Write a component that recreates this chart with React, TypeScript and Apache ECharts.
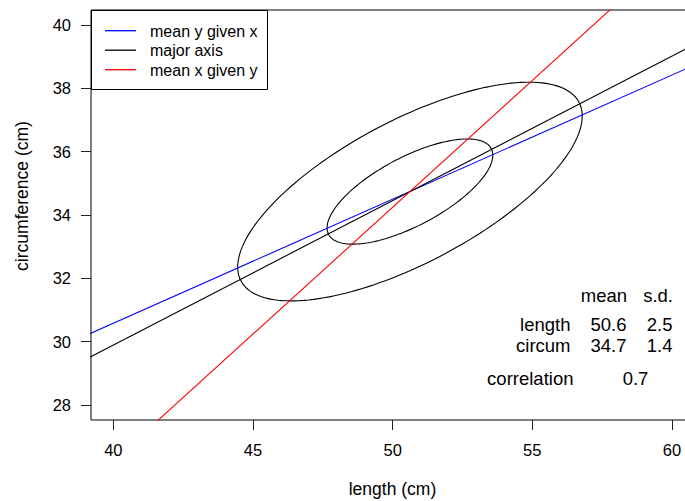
import React, { useEffect, useRef } from "react";
import * as echarts from "echarts";

// ---- data ----
const xTicks = [40, 45, 50, 55, 60];
const yTicks = [28, 30, 32, 34, 36, 38, 40];
const xRange = [39.2, 60.79];
const yRange = [27.53, 40.47];

const seriesNames = ["mean y given x", "major axis", "mean x given y"];
const seriesColors = ["#0000ff", "#000000", "#ff0000"];
const meanYGivenX = [[38, 29.8], [62, 39.2]];
const majorAxis = [[38, 28.98], [62, 39.93]];
const meanXGivenY = [[40.95, 27], [58.44, 41]];

const statNames = ["length", "circum"];
const statMeans = [50.62, 34.74];
const statSDs = [2.52, 1.41];
const correlation = 0.69;
const contourRadii = [1.1774, 2.4477]; // 50% and 95% contours

const FONT = '"Liberation Sans", Arial, Helvetica, sans-serif';

function ellipsePoints(k: number): number[][] {
  const pts: number[][] = [];
  const q = Math.sqrt(1 - correlation * correlation);
  for (let i = 0; i <= 360; i += 2) {
    const t = (i * Math.PI) / 180;
    const c = Math.cos(t);
    const s = Math.sin(t);
    pts.push([
      statMeans[0] + k * statSDs[0] * c,
      statMeans[1] + k * statSDs[1] * (correlation * c + q * s),
    ]);
  }
  return pts;
}

export default function App() {
  const ref = useRef<HTMLDivElement>(null);
  useEffect(() => {
    if (!ref.current) return;
    const chart = echarts.init(ref.current, null, { renderer: "svg" });
    const lineData = [meanYGivenX, majorAxis, meanXGivenY];

    const series: any[] = [];
    contourRadii.forEach((k, i) => {
      series.push({
        type: "line",
        name: "contour" + i,
        data: ellipsePoints(k),
        showSymbol: false,
        symbol: "none",
        lineStyle: { color: "#000", width: 1.1 },
        silent: true,
      });
    });
    lineData.forEach((d, i) => {
      series.push({
        type: "line",
        name: seriesNames[i],
        data: d,
        showSymbol: false,
        symbol: "none",
        lineStyle: { color: seriesColors[i], width: 1.1 },
        silent: true,
      });
    });

    const graphics: any[] = [];
    // legend box
    const lgX = 91.5, lgY = 10.5, lgW = 176, lgH = 79;
    graphics.push({
      type: "rect",
      shape: { x: lgX, y: lgY, width: lgW, height: lgH },
      style: { fill: "#fff", stroke: "#000", lineWidth: 1 },
      z: 100,
    });
    const rowY = [30.7, 50.2, 69.7];
    seriesNames.forEach((n, i) => {
      graphics.push({
        type: "line",
        shape: { x1: 105, y1: rowY[i], x2: 136, y2: rowY[i] },
        style: { stroke: seriesColors[i], lineWidth: 1.3 },
        z: 101,
      });
      graphics.push({
        type: "text",
        x: 150,
        y: rowY[i] + 0.3,
        style: {
          text: n,
          font: `16px ${FONT}`,
          fill: "#000",
          align: "left",
          verticalAlign: "middle",
          lineHeight: 16,
        },
        z: 101,
      });
    });

    // stats table
    const stFont = `18.5px ${FONT}`;
    const txt = (s: string, x: number, y: number, align = "right") => ({
      type: "text",
      x,
      y,
      style: {
        text: s,
        font: stFont,
        fill: "#000",
        align,
        verticalAlign: "middle",
        lineHeight: 16,
      },
      z: 101,
    });
    const c1 = 570.5, c2 = 626.5, c3 = 672.5;
    const rows = [295.3, 324.7, 345.2];
    graphics.push(txt("mean", c2 + 0.5, rows[0]));
    graphics.push(txt("s.d.", c3 + 0.5, rows[0]));
    statNames.forEach((n, i) => {
      graphics.push(txt(n, c1, rows[i + 1]));
      graphics.push(txt(statMeans[i].toFixed(1), c2, rows[i + 1]));
      graphics.push(txt(statSDs[i].toFixed(1), c3, rows[i + 1]));
    });
    graphics.push(txt("correlation", 573.5, 378.6));
    graphics.push(txt(correlation.toFixed(1), 635.5, 378.6, "center"));

    // axis titles
    graphics.push({
      type: "text",
      x: 392.5,
      y: 489,
      style: { text: "length (cm)", font: `17.5px ${FONT}`, fill: "#000", align: "center", verticalAlign: "middle" },
    });
    graphics.push({
      type: "text",
      x: 22,
      y: 196,
      rotation: Math.PI / 2,
      style: { text: "circumference (cm)", font: `17.5px ${FONT}`, fill: "#000", align: "center", verticalAlign: "middle" },
    });

    chart.setOption({
      animation: false,
      backgroundColor: "#fff",
      grid: {
        left: 91,
        top: 10,
        width: 603,
        height: 410,
        show: true,
        borderColor: "#000",
        borderWidth: 1,
        backgroundColor: "transparent",
        containLabel: false,
        outerBoundsMode: "none",
      },
      xAxis: {
        type: "value",
        min: xRange[0],
        max: xRange[1],
        axisLine: { show: false },
        splitLine: { show: false },
        axisTick: {
          show: true,
          length: 10,
          inside: false,
          customValues: xTicks,
          lineStyle: { color: "#222", width: 1 },
        },
        axisLabel: {
          customValues: xTicks,
          margin: 21,
          color: "#000",
          fontSize: 16.5,
          fontFamily: FONT,
        },
      },
      yAxis: {
        type: "value",
        min: yRange[0],
        max: yRange[1],
        axisLine: { show: false },
        splitLine: { show: false },
        axisTick: {
          show: true,
          length: 10,
          inside: false,
          customValues: yTicks,
          lineStyle: { color: "#222", width: 1 },
        },
        axisLabel: {
          customValues: yTicks,
          margin: 20,
          color: "#000",
          fontSize: 16.5,
          fontFamily: FONT,
        },
      },
      series,
      graphic: graphics,
    });
    return () => chart.dispose();
  }, []);
  return (
    <div
      ref={ref}
      style={{ position: "fixed", left: 0, top: 0, width: 685, height: 501, background: "#fff" }}
    />
  );
}
